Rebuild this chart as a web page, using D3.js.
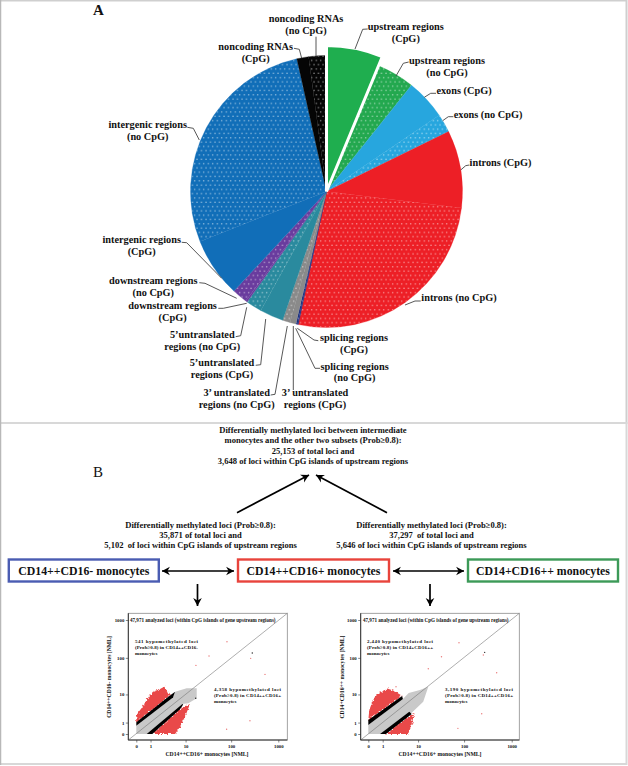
<!DOCTYPE html>
<html>
<head>
<meta charset="utf-8">
<script src="https://d3js.org/d3.v7.min.js"></script>
<style>
  html, body { margin: 0; padding: 0; background: #fff; }
  svg { display: block; }
  text { font-family: "Liberation Serif", serif; fill: #111; }
</style>
</head>
<body>
<svg id="fig" width="628" height="766"></svg>
<script>
// pie shares in percent, clockwise from 12 o'clock
const regions = [
  'upstream CpG', 'upstream no CpG', 'exons CpG', 'exons no CpG', 'introns CpG', 'introns no CpG',
  'splicing CpG', 'splicing no CpG', '3 UTR CpG', '3 UTR no CpG', '5 UTR CpG', '5 UTR no CpG',
  'downstream CpG', 'downstream no CpG', 'intergenic CpG', 'intergenic no CpG', 'noncoding CpG', 'noncoding no CpG'
];
const shares = [6.25, 4.5, 4.8, 2.2, 9.2, 26.4, 0.1, 0.2, 0.7, 0.9, 2.8, 1.9, 0.2, 1.8, 7.1, 27.5, 1.4, 2.1];
const sliceColors = ['#1fae4f', '#23a84f', '#27a6de', '#27a6de', '#ed1f26', '#ed1f26', '#1b2f80', '#1b2f80',
  '#8a8a8a', '#8a8a8a', '#2a8a9e', '#2a8a9e', '#6a3c9e', '#6a3c9e', '#116eb8', '#116eb8', '#050505', '#050505'];
const dotted = [0, 1, 0, 1, 0, 1, 0, 1, 0, 1, 0, 1, 0, 1, 0, 1, 0, 1];

// pie label text, one entry per label
const pieLabelLines = [
  ['upstream regions', '(CpG)'], ['upstream regions', '(no CpG)'], ['exons (CpG)'], ['exons (no CpG)'],
  ['introns (CpG)'], ['introns (no CpG)'], ['splicing regions', '(CpG)'], ['splicing regions', '(no CpG)'],
  ['3\u2019 untranslated', 'regions (CpG)'], ['3\u2019 untranslated', 'regions (no CpG)'],
  ['5\u2019untranslated', 'regions (CpG)'], ['5\u2019untranslated', 'regions (no CpG)'],
  ['downstream regions', '(CpG)'], ['downstream regions', '(no CpG)'], ['intergenic regions', '(CpG)'],
  ['intergenic regions', '(no CpG)'], ['noncoding RNAs', '(CpG)'], ['noncoding RNAs', '(no CpG)']
];

// scatter axis ticks
const tickValues = [0, 1, 10, 100, 1000];

// scatter clouds, [x, y] outlines in NML units
const leftGray = [[0, 0.65], [4.96, 8.2], [5.6, 12], [10.6, 15], [17.9, 15], [17.9, 7.7], [11.6, 5.4], [8.4, 5.2], [0.66, 0], [0, 0]];
const leftBlackUp = [[0, 1.03], [3.74, 8.6], [5.6, 12], [4.96, 8.2], [0, 0.65]];
const leftBlackDown = [[0.66, 0], [8.4, 5.2], [8.8, 5], [7.4, 3.47], [1.18, 0]];
const leftRedUp = [[0, 1.03], [0, 2.16], [0.3, 3.8], [0.66, 6.85], [0.9, 9.2], [1.25, 12], [2.17, 14.3], [2.9, 16.5], [3.68, 12], [4.15, 9.6], [3.74, 8.6]];
const leftRedDown = [[1.18, 0], [5.6, 0], [7.4, 0.56], [8.4, 1.1], [9.7, 1.85], [11.6, 3.74], [12.6, 5.2], [7.4, 3.47]];
const leftOutliers = [[81.4, 268], [33.4, 112], [17.2, 63], [260, 97], [523, 36], [251, 1.24], [80, 0.33]];
const leftDark = [[281, 134], [17, 7.7]];

const rightGray = [[0, 0.73], [4.3, 7.3], [6, 11], [11, 13.4], [17, 16.6], [13.1, 6.1], [7.1, 2.6], [0.76, 0], [0, 0]];
const rightBlackUp = [[0, 0.73], [0, 1.33], [4.1, 9], [4.3, 7.3]];
const rightBlackDown = [[0.76, 0], [6.2, 2.86], [7.1, 2.36], [1.34, 0]];
const rightRedUp = [[0, 1.33], [0.05, 3.3], [0.2, 5.7], [0.38, 8.6], [0.7, 11.2], [1.06, 12], [1.5, 14.8], [2.09, 13.4], [3, 11.6], [4, 9]];
const rightRedDown = [[1.34, 0], [5.8, 0], [6.8, 0.53], [7.7, 1.64], [8.2, 2.57], [7.1, 2.36]];
const rightOutliers = [[78, 252], [33, 107], [17, 51], [254, 119], [484, 40], [235, 2.42], [74, 0.41], [7.7, 0.98], [2.8, 16.6]];
const rightDark = [[271, 140]];

const svg = d3.select('#fig');
const defs = svg.append('defs');

// little light dots on the "no CpG" slices
const pat = defs.append('pattern').attr('id', 'dots').attr('patternUnits', 'userSpaceOnUse')
  .attr('width', 4.5).attr('height', 8.6);
pat.append('rect').attr('x', 0.4).attr('y', 1.6).attr('width', 1.2).attr('height', 1.2).attr('fill', '#fff').attr('opacity', 0.6);
pat.append('rect').attr('x', 2.65).attr('y', 5.9).attr('width', 1.2).attr('height', 1.2).attr('fill', '#fff').attr('opacity', 0.6);

// rough edges for the red clouds
const rough = defs.append('filter').attr('id', 'rough').attr('x', '-20%').attr('y', '-20%').attr('width', '140%').attr('height', '140%');
rough.append('feTurbulence').attr('type', 'fractalNoise').attr('baseFrequency', 0.55).attr('numOctaves', 2).attr('seed', 3).attr('result', 'noise');
rough.append('feDisplacementMap').attr('in', 'SourceGraphic').attr('in2', 'noise').attr('scale', 4)
  .attr('xChannelSelector', 'R').attr('yChannelSelector', 'G');

// panel frames
svg.append('rect').attr('x', 0).attr('y', 0.5).attr('width', 626.5).attr('height', 422.5)
  .attr('fill', 'none').attr('stroke', '#cfcfcf').attr('stroke-width', 2);
svg.append('rect').attr('x', 0).attr('y', 423).attr('width', 626.5).attr('height', 341)
  .attr('fill', 'none').attr('stroke', '#d8d8d8').attr('stroke-width', 2);
svg.append('line').attr('x1', 0.5).attr('y1', 0).attr('x2', 0.5).attr('y2', 765)
  .attr('stroke', '#b8b8b8').attr('stroke-width', 1.5);

svg.append('text').attr('x', 93).attr('y', 15).attr('font-size', 15).attr('font-weight', 'bold').text('A');
svg.append('text').attr('x', 93).attr('y', 477).attr('font-size', 15).text('B');

// ---- panel A, the pie ----
const cx = 326.5, cy = 191.5;
const pieG = svg.append('g').attr('transform', `translate(${cx},${cy})`);
const pie = d3.pie().value(d => d).sort(null);
const arc = d3.arc().innerRadius(0).outerRadius(136);
const bigArc = d3.arc().innerRadius(0).outerRadius(146);
const slices = pie(shares);

// the first slice is pulled out, draw it last so its white edge sits on top
const order = slices.map((d, i) => i).slice(1).concat([0]);
order.forEach(i => {
  const a = i === 0 ? bigArc : arc;
  pieG.append('path').attr('d', a(slices[i])).attr('fill', sliceColors[i])
    .attr('stroke', i === 0 ? '#fff' : sliceColors[i]).attr('stroke-width', i === 0 ? 3 : 0.3);
  if (dotted[i]) pieG.append('path').attr('d', a(slices[i])).attr('fill', 'url(#dots)');
});

// label anchors and leader lines, same order as pieLabelLines
const pieLabelLayout = [
  { x: 405.8, y: [30, 42], leader: [[367.7, 29], [362.7, 29.3], [355, 49]] },
  { x: 447, y: [63.5, 75.5], leader: [[408.7, 62], [403.3, 63.3], [396, 76]] },
  { x: 464, y: [94], leader: [[436, 93.3], [430.7, 93.3], [424.3, 97.3]] },
  { x: 488, y: [118], leader: [[453.3, 116.7], [448.3, 116.7], [442.7, 120.7]] },
  { x: 500.5, y: [166], leader: [[469.3, 165], [465.7, 165.7], [460.7, 170]] },
  { x: 459, y: [301], leader: [[420.7, 301], [415, 301], [405, 305]] },
  { x: 354, y: [341, 353], leader: [[318.3, 340.7], [314, 340], [297.3, 328.3]] },
  { x: 354.6, y: [369.5, 381], leader: [[320, 368.3], [315, 368.3], [295.7, 328.3]] },
  { x: 315, y: [395.5, 407.5], leader: [[293.3, 390], [293.3, 326]] },
  { x: 236.7, y: [395.5, 407.5], leader: [[270.7, 395], [275, 394.3], [287.3, 326]] },
  { x: 222, y: [366, 378], leader: [[255.7, 365.3], [260.7, 364.7], [265.7, 319]] },
  { x: 202.3, y: [337.5, 349.5], leader: [[235.7, 336.7], [240.7, 335.7], [246.7, 307.3]] },
  { x: 172.6, y: [309, 321], leader: [[218.3, 308.3], [223.3, 308.3], [246.7, 303.3]] },
  { x: 153.3, y: [284, 296], leader: [[199.3, 282.7], [205, 283.3], [236.7, 298.3]] },
  { x: 141.7, y: [243, 255], leader: [[181.7, 242.3], [186.7, 242.7], [221.7, 278.3]] },
  { x: 147.7, y: [128, 140], leader: [[187.3, 127.3], [193.3, 128.3], [199.3, 140]] },
  { x: 255.7, y: [50, 62], leader: [[294, 48.3], [299.3, 49.3], [301.7, 58.3]] },
  { x: 306, y: [22, 34], leader: [[316, 36.7], [316, 57.3]] }
];
const leaderLine = d3.line();
pieLabelLayout.forEach((lay, i) => {
  svg.append('path').attr('d', leaderLine(lay.leader)).attr('fill', 'none').attr('stroke', '#444').attr('stroke-width', 0.9);
  pieLabelLines[i].forEach((line, j) => {
    svg.append('text').attr('x', lay.x).attr('y', lay.y[j]).attr('text-anchor', 'middle')
      .attr('font-size', 10.3).attr('font-weight', 'bold').text(line);
  });
});

// ---- panel B, the flow part ----
const headTop = ['Differentially methylated loci between intermediate', 'monocytes and the other two subsets (Prob\u22650.8):', '25,153 of total loci and', '3,648 of loci within CpG islands of upstream regions'];
const headLeft = ['Differentially methylated loci (Prob\u22650.8):', '35,871 of total loci and', '5,102  of loci within CpG islands of upstream regions'];
const headRight = ['Differentially methylated loci (Prob\u22650.8):', '37,297  of total loci and', '5,646 of loci within CpG islands of upstream regions'];
function textBlock(lines, x, y0, step) {
  lines.forEach((t, i) => {
    svg.append('text').attr('x', x).attr('y', y0 + i * step).attr('text-anchor', 'middle')
      .attr('xml:space', 'preserve').attr('font-size', 8.55).attr('font-weight', 'bold').text(t);
  });
}
textBlock(headTop, 313, 433, 10.35);
textBlock(headLeft, 200.5, 527.5, 10.2);
textBlock(headRight, 431.5, 527.5, 10.2);

const boxes = [
  { label: 'CD14++CD16- monocytes', x: 8.8, w: 150, color: '#4a5cb2' },
  { label: 'CD14++CD16+ monocytes', x: 238, w: 151, color: '#e8443c' },
  { label: 'CD14+CD16++ monocytes', x: 468, w: 150, color: '#3c9a58' }
];
boxes.forEach(b => {
  svg.append('rect').attr('x', b.x).attr('y', 559.5).attr('width', b.w).attr('height', 22)
    .attr('fill', '#fff').attr('stroke', b.color).attr('stroke-width', 2.4);
  svg.append('text').attr('x', b.x + b.w / 2).attr('y', 574.8).attr('text-anchor', 'middle')
    .attr('font-size', 11.8).attr('font-weight', 'bold').text(b.label);
});

function arrowHead(tip, from, size) {
  const ang = Math.atan2(tip[1] - from[1], tip[0] - from[0]);
  const back = a => [tip[0] - size * Math.cos(ang + a), tip[1] - size * Math.sin(ang + a)];
  const inner = [tip[0] - size * 0.6 * Math.cos(ang), tip[1] - size * 0.6 * Math.sin(ang)];
  return [back(0.5), tip, back(-0.5), inner];
}
function arrow(a, b, twoWay) {
  svg.append('line').attr('x1', a[0]).attr('y1', a[1]).attr('x2', b[0]).attr('y2', b[1])
    .attr('stroke', '#000').attr('stroke-width', 1.7);
  svg.append('polygon').attr('points', arrowHead(b, a, 9).join(' ')).attr('fill', '#000');
  if (twoWay) svg.append('polygon').attr('points', arrowHead(a, b, 9).join(' ')).attr('fill', '#000');
}
arrow([237, 512.7], [309, 475]);
arrow([387, 512.7], [316, 475]);
arrow([162, 571], [234, 571], true);
arrow([393, 571], [464, 571], true);
arrow([197.5, 584], [197.5, 606]);
arrow([430, 584], [430, 606]);

// ---- panel B, the two scatter plots ----
function scatter(opt) {
  const x = d3.scaleSymlog().constant(1).domain([0, 1000]).range(opt.xRange);
  const y = d3.scaleSymlog().constant(1).domain([0, 1000]).range([734, 620]);
  const g = svg.append('g');
  const outline = d3.line().x(d => x(d[0])).y(d => y(d[1])).curve(d3.curveLinearClosed);

  g.append('rect').attr('x', opt.frame[0]).attr('y', 613.3).attr('width', opt.frame[1] - opt.frame[0]).attr('height', 126.7)
    .attr('fill', '#fff').attr('stroke', '#8c8c8c').attr('stroke-width', 0.8);

  g.append('path').attr('d', outline(opt.redUp)).attr('fill', '#e9494a').attr('filter', 'url(#rough)');
  g.append('path').attr('d', outline(opt.redDown)).attr('fill', '#e9494a').attr('filter', 'url(#rough)');
  g.append('path').attr('d', outline(opt.gray)).attr('fill', '#c9c9c9');
  g.append('path').attr('d', outline(opt.blackUp)).attr('fill', '#000');
  g.append('path').attr('d', outline(opt.blackDown)).attr('fill', '#000');

  g.selectAll('.out').data(opt.outliers).enter().append('circle')
    .attr('cx', d => x(d[0])).attr('cy', d => y(d[1])).attr('r', 0.7).attr('fill', '#ea7a7a');
  g.selectAll('.dark').data(opt.dark).enter().append('circle')
    .attr('cx', d => x(d[0])).attr('cy', d => y(d[1])).attr('r', 0.7).attr('fill', '#222');

  // identity line runs corner to corner
  g.append('line').attr('x1', opt.frame[0]).attr('y1', 740).attr('x2', opt.frame[1]).attr('y2', 613.3)
    .attr('stroke', '#777').attr('stroke-width', 0.6);

  const xAxis = g.append('g').attr('transform', 'translate(0,740)')
    .call(d3.axisBottom(x).tickValues(tickValues).tickFormat(d3.format('d')).tickSize(2.5).tickPadding(2));
  xAxis.select('.domain').attr('d', `M${opt.frame[0]},0H${opt.frame[1]}`).attr('stroke', '#333').attr('stroke-width', 1);
  const yAxis = g.append('g').attr('transform', `translate(${opt.frame[0]},0)`)
    .call(d3.axisLeft(y).tickValues(tickValues).tickFormat(d3.format('d')).tickSize(2.5).tickPadding(1.5));
  yAxis.select('.domain').attr('d', 'M0,613.3V740').attr('stroke', '#333').attr('stroke-width', 1);
  g.selectAll('.tick line').attr('stroke', '#333').attr('stroke-width', 0.6);
  g.selectAll('.tick text').attr('font-family', '"Liberation Serif", serif').attr('font-size', 4.8).attr('font-weight', 'bold').attr('fill', '#333');

  g.append('text').attr('x', opt.xTitle).attr('y', 756).attr('text-anchor', 'middle')
    .attr('font-size', 5.7).attr('font-weight', 'bold').text(opt.xLabel);
  g.append('text').attr('transform', `translate(${opt.yTitle},677) rotate(-90)`).attr('text-anchor', 'middle')
    .attr('font-size', 5.7).attr('font-weight', 'bold').text(opt.yLabel);

  g.append('text').attr('x', opt.topText).attr('y', 621.7).attr('font-size', 5.1).attr('font-weight', 'bold')
    .attr('fill', '#222').text(opt.top);

  opt.notes.forEach(n => {
    n.lines.forEach((t, i) => {
      const line = g.append('text').attr('x', n.x).attr('y', n.y + i * 6.2).attr('font-size', 5)
        .attr('font-weight', 'bold').attr('fill', '#222').text(t);
      if (i < 2) line.attr('textLength', n.w).attr('lengthAdjust', 'spacing');
    });
  });
}

const analyzedText = '47,971 analyzed loci (within CpG islands of gene upstream regions)';

scatter({
  xRange: [136.3, 278.3], frame: [128.3, 287.3], gray: leftGray, blackUp: leftBlackUp, blackDown: leftBlackDown,
  redUp: leftRedUp, redDown: leftRedDown, outliers: leftOutliers, dark: leftDark,
  xTitle: 207, yTitle: 111, xLabel: 'CD14++CD16+ monocytes [NML]', yLabel: 'CD14++CD16- monocytes [NML]',
  topText: 130, top: analyzedText,
  notes: [
    { x: 135, y: 642.5, w: 63, lines: ['541 hypomethylated loci', '(Prob\u22650.8) in CD14++CD16-', 'monocytes'] },
    { x: 214, y: 690.5, w: 67, lines: ['4,358 hypomethylated loci', '(Prob\u22650.8) in CD14++CD16+', 'monocytes'] }
  ]
});

scatter({
  xRange: [368.3, 511.7], frame: [360.7, 519.3], gray: rightGray, blackUp: rightBlackUp, blackDown: rightBlackDown,
  redUp: rightRedUp, redDown: rightRedDown, outliers: rightOutliers, dark: rightDark,
  xTitle: 440, yTitle: 344, xLabel: 'CD14++CD16+ monocytes [NML]', yLabel: 'CD14+CD16++ monocytes [NML]',
  topText: 363, top: analyzedText,
  notes: [
    { x: 367, y: 642.5, w: 66, lines: ['2,440 hypomethylated loci', '(Prob\u22650.8) in CD14+CD16++', 'monocytes'] },
    { x: 445, y: 690.5, w: 68, lines: ['3,190 hypomethylated loci', '(Prob\u22650.8) in CD14++CD16+', 'monocytes'] }
  ]
});
</script>
</body>
</html>
